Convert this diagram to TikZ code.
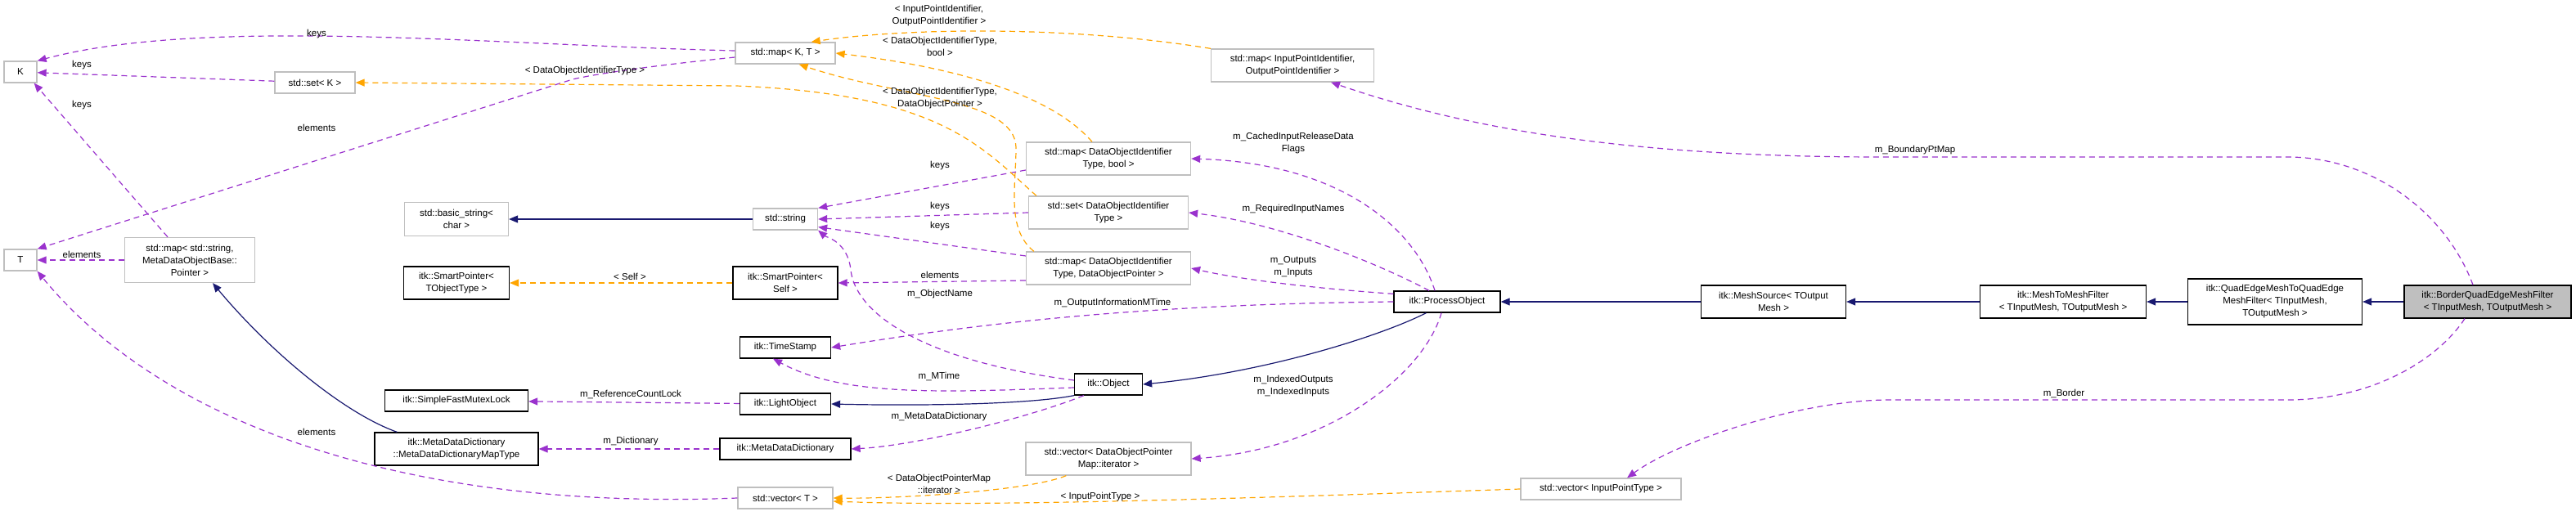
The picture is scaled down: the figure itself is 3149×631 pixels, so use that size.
\documentclass[tikz,border=0pt]{standalone}
\usepackage{fontspec}
\setmainfont{Liberation Sans}
\usetikzlibrary{arrows.meta,calc}
\definecolor{pur}{HTML}{9A32CD}
\definecolor{org}{HTML}{FFA500}
\definecolor{nav}{HTML}{191970}
\definecolor{gbd}{HTML}{BFBFBF}
\begin{document}
\begin{tikzpicture}[x=1pt,y=-1pt,
  font=\fontsize{11.5}{15}\selectfont,
  box/.style={draw=black,line width=1.3pt,inner sep=0pt,align=center,fill=white},
  ubox/.style={box,draw=gbd},
  lbl/.style={inner sep=0pt,align=center},
  inh/.style={-{Triangle[length=11pt,width=9pt,fill=nav]},draw=nav,line width=1.2pt},
  mem/.style={-{Triangle[length=11pt,width=9pt,fill=pur]},draw=pur,line width=1.2pt,dash pattern=on 7pt off 5pt},
  tpl/.style={-{Triangle[length=11pt,width=9pt,fill=org]},draw=org,line width=1.2pt,dash pattern=on 7pt off 5pt}]
\useasboundingbox (0,0) rectangle (3149,631);
% nodes
\node[ubox,minimum width=40,minimum height=26] (K) at (25,88) {K};
\node[ubox,minimum width=40,minimum height=26] (T) at (25,318) {T};
\node[ubox,minimum width=98,minimum height=26] (sk) at (385,101) {std::set< K >};
\node[ubox,minimum width=159,minimum height=55] (smap) at (232,318) {std::map< std::string,\\MetaDataObjectBase::\\Pointer >};
\node[ubox,minimum width=127,minimum height=41] (bs) at (558,268) {std::basic\_string<\\char >};
\node[box,minimum width=129,minimum height=40] (spt) at (558,346) {itk::SmartPointer<\\TObjectType >};
\node[box,minimum width=175,minimum height=26] (sfml) at (558,490) {itk::SimpleFastMutexLock};
\node[box,minimum width=200,minimum height=40] (mdmt) at (558,549) {itk::MetaDataDictionary\\::MetaDataDictionaryMapType};
\node[ubox,minimum width=122,minimum height=26] (mkt) at (960,65) {std::map< K, T >};
\node[ubox,minimum width=79,minimum height=26] (str) at (960,268) {std::string};
\node[box,minimum width=128,minimum height=40] (sps) at (960,346) {itk::SmartPointer<\\Self >};
\node[box,minimum width=111,minimum height=26] (ts) at (960,425) {itk::TimeStamp};
\node[box,minimum width=111,minimum height=26] (lt) at (960,494) {itk::LightObject};
\node[box,minimum width=160,minimum height=26] (mdd) at (960,549) {itk::MetaDataDictionary};
\node[ubox,minimum width=116,minimum height=26] (vt) at (960,609) {std::vector< T >};
\node[box,minimum width=83,minimum height=26] (obj) at (1355,470) {itk::Object};
\node[ubox,minimum width=201,minimum height=40] (mbool) at (1355,194) {std::map< DataObjectIdentifier\\Type, bool >};
\node[ubox,minimum width=195,minimum height=40] (sdoit) at (1355,260) {std::set< DataObjectIdentifier\\Type >};
\node[ubox,minimum width=201,minimum height=40] (mdop) at (1355,328) {std::map< DataObjectIdentifier\\Type, DataObjectPointer >};
\node[ubox,minimum width=202,minimum height=40] (vdop) at (1355,561) {std::vector< DataObjectPointer\\Map::iterator >};
\node[ubox,minimum width=199,minimum height=40] (imap) at (1580,80) {std::map< InputPointIdentifier,\\OutputPointIdentifier >};
\node[box,minimum width=130,minimum height=26] (po) at (1769,369) {itk::ProcessObject};
\node[ubox,minimum width=196,minimum height=26] (vip) at (1957,598) {std::vector< InputPointType >};
\node[box,minimum width=177,minimum height=40] (ms) at (2168,369) {itk::MeshSource< TOutput\\Mesh >};
\node[box,minimum width=203,minimum height=40] (mtm) at (2522,369) {itk::MeshToMeshFilter\\< TInputMesh, TOutputMesh >};
\node[box,minimum width=213,minimum height=56] (qe) at (2781,369) {itk::QuadEdgeMeshToQuadEdge\\MeshFilter< TInputMesh,\\TOutputMesh >};
\node[box,fill=gbd,minimum width=204,minimum height=40] (bq) at (3041,369) {itk::BorderQuadEdgeMeshFilter\\< TInputMesh, TOutputMesh >};
% inheritance
\draw[inh] (bq) -- (qe);
\draw[inh] (qe) -- (mtm);
\draw[inh] (mtm) -- (ms);
\draw[inh] (ms) -- (po);
\draw[inh] ($(po.south west)+(40,0)$) .. controls (1690,410) and (1550,455) .. (obj.east);
\draw[inh] (obj.south west) .. controls (1250,496) and (1100,496) .. (lt.east);
\draw[inh] (str) -- (bs);
\draw[inh] ($(mdmt.north west)+(28,0)$) .. controls (420,505) and (330,430) .. ($(smap.south)+(28,0)$);
% members
\coordinate (b1) at (2796,192);
\coordinate (b2) at (2300,192);
\draw[mem] ($(bq.north)+(-18,0)$) .. controls (2990,260) and (2900,192) .. (b1) -- (b2) .. controls (2000,192) and (1800,160) .. ($(imap.south)+(47,0)$);
\coordinate (c1) at (2796,489);
\coordinate (c2) at (2310,489);
\draw[mem] ($(bq.south)+(-28,0)$) .. controls (2980,440) and (2900,489) .. (c1) -- (c2) .. controls (2200,489) and (2050,540) .. ($(vip.north)+(32,0)$);
\draw[mem] ($(po.north)+(-15,0)$) .. controls (1730,280) and (1640,200) .. (mbool.east);
\draw[mem] ($(po.north)+(-22,0)$) .. controls (1680,320) and (1560,272) .. (sdoit.east);
\draw[mem] ($(po.north west)+(0,4)$) .. controls (1640,355) and (1530,345) .. (mdop.east);
\draw[mem] (po.west) .. controls (1400,372) and (1200,395) .. (ts.east);
\draw[mem] ($(po.south)+(-7,0)$) .. controls (1740,460) and (1620,550) .. (vdop.east);
\draw[mem] ($(obj.west)+(0,-5)$) .. controls (1120,440) and (1045,380) .. (1040,330) .. controls (1036,295) and (1010,290) .. (str.south east);
\draw[mem] ($(obj.west)+(0,4)$) .. controls (1150,480) and (1030,485) .. ($(ts.south)+(-15,0)$);
\draw[mem] ($(obj.south west)+(12,0)$) .. controls (1260,510) and (1120,545) .. (mdd.east);
\draw[mem] (lt) -- (sfml);
\draw[mem] (mdd) -- (mdmt);
\draw[mem] ($(mbool.west)+(0,14)$) -- (str.north east);
\draw[mem] (sdoit.west) -- (str.east);
\draw[mem] ($(mdop.west)+(0,-15)$) -- ($(str.south east)+(0,-4)$);
\draw[mem] ($(mdop.west)+(0,15)$) -- (sps.east);
\draw[mem] ($(mkt.west)+(0,-3)$) .. controls (600,55) and (250,20) .. (K.north east);
\draw[mem] (sk) -- (K);
\draw[mem] ($(smap.north)+(-27,0)$) -- ($(K.south east)+(-4,0)$);
\draw[mem] ($(mkt.west)+(0,5)$) .. controls (800,80) and (730,90) .. (700,97) -- (T.north east);
\draw[mem] (smap) -- (T);
\draw[mem] (vt.west) .. controls (500,625) and (200,520) .. (T.south east);
% templates
\draw[tpl] (sps) -- (spt);
\draw[tpl] (imap.north west) .. controls (1300,30) and (1100,35) .. ($(mkt.north east)+(-30,0)$);
\draw[tpl] ($(mbool.north)+(-20,0)$) .. controls (1280,110) and (1150,80) .. (mkt.east);
\draw[tpl] ($(mdop.north west)+(10,0)$) .. controls (1230,280) and (1242,230) .. (1242,180) .. controls (1240,120) and (1100,120) .. ($(mkt.south east)+(-45,0)$);
\draw[tpl] ($(sdoit.north west)+(10,0)$) .. controls (1200,180) and (1150,115) .. (900,105) -- (sk.east);
\draw[tpl] ($(vdop.south west)+(50,0)$) .. controls (1260,600) and (1100,610) .. (vt.east);
\draw[tpl] (vip.west) .. controls (1500,610) and (1200,620) .. ($(vt.east)+(0,4)$);
% labels
\node[lbl] (l1) at (387,42) {keys};
\node[lbl] (l2) at (100,80) {keys};
\node[lbl] (l3) at (100,129) {keys};
\node[lbl] (l4) at (387,156) {elements};
\node[lbl] (l5) at (100,311) {elements};
\node[lbl] (l6) at (387,528) {elements};
\node[lbl] (l7) at (715,87) {< DataObjectIdentifierType >};
\node[lbl] (l8) at (1148,19) {< InputPointIdentifier,\\OutputPointIdentifier >};
\node[lbl] (l9) at (1149,57) {< DataObjectIdentifierType,\\bool >};
\node[lbl] (l10) at (1149,120) {< DataObjectIdentifierType,\\DataObjectPointer >};
\node[lbl] (l11) at (1149,203) {keys};
\node[lbl] (l12) at (1149,253) {keys};
\node[lbl] (l13) at (1149,277) {keys};
\node[lbl] (l14) at (1149,336) {elements};
\node[lbl] (l15) at (1149,360) {m\_ObjectName};
\node[lbl] (l16) at (770,338) {< Self >};
\node[lbl] (l17) at (1360,371) {m\_OutputInformationMTime};
\node[lbl] (l18) at (1148,460) {m\_MTime};
\node[lbl] (l19) at (771,482) {m\_ReferenceCountLock};
\node[lbl] (l20) at (1148,510) {m\_MetaDataDictionary};
\node[lbl] (l21) at (771,540) {m\_Dictionary};
\node[lbl] (l22) at (1148,592) {< DataObjectPointerMap\\::iterator >};
\node[lbl] (l23) at (1345,608) {< InputPointType >};
\node[lbl] (l24) at (1581,175) {m\_CachedInputReleaseData\\Flags};
\node[lbl] (l25) at (1581,256) {m\_RequiredInputNames};
\node[lbl] (l26) at (1581,326) {m\_Outputs\\m\_Inputs};
\node[lbl] (l27) at (1581,472) {m\_IndexedOutputs\\m\_IndexedInputs};
\node[lbl] (l28) at (2341,184) {m\_BoundaryPtMap};
\node[lbl] (l29) at (2523,481) {m\_Border};
\end{tikzpicture}
\end{document}
